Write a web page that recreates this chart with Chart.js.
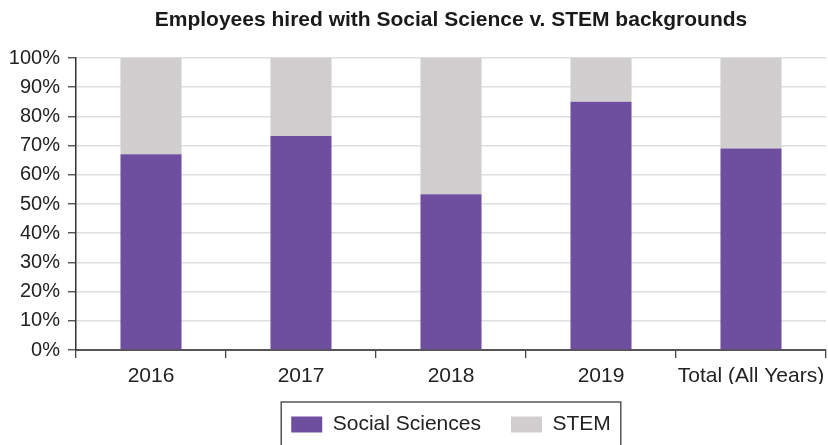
<!DOCTYPE html>
<html>
<head>
<meta charset="utf-8">
<script src="https://cdn.jsdelivr.net/npm/chart.js@4"></script>
<style>
  html, body { margin: 0; padding: 0; background: #fff; }
  #wrap { width: 828px; height: 445px; position: relative; overflow: hidden; }
</style>
</head>
<body>
<div id="wrap"><canvas id="c"></canvas></div>
<script>
const categories = ["2016", "2017", "2018", "2019", "Total (All Years)"];
const socialSciences = [67, 73.3, 53.3, 85, 69];
const stem = [33, 26.7, 46.7, 15, 31];
const yTicks = [0, 10, 20, 30, 40, 50, 60, 70, 80, 90, 100];
const chartTitle = "Employees hired with Social Science v. STEM backgrounds";

const FONT = "'Liberation Sans', Arial, Helvetica, sans-serif";

const legendBorder = {
  id: 'legendBorder',
  afterDraw(chart) {
    const lg = chart.legend;
    if (!lg || !lg.legendHitBoxes || !lg.legendHitBoxes.length) return;
    const hb = lg.legendHitBoxes;
    const first = hb[0], last = hb[hb.length - 1];
    const left = first.left - 10;
    const right = last.left + last.width + 10;
    const top = first.top - 12;
    const ctx = chart.ctx;
    ctx.save();
    ctx.strokeStyle = '#555';
    ctx.lineWidth = 1.5;
    ctx.beginPath();
    ctx.moveTo(left, chart.height + 5);
    ctx.lineTo(left, top);
    ctx.lineTo(right, top);
    ctx.lineTo(right, chart.height + 5);
    ctx.stroke();
    ctx.restore();
  }
};

new Chart(document.getElementById('c'), {
  type: 'bar',
  data: {
    labels: categories,
    datasets: [
      { label: 'Social Sciences', data: socialSciences, backgroundColor: '#6E4F9F',
        categoryPercentage: 1, barPercentage: 0.407 },
      { label: 'STEM', data: stem, backgroundColor: '#D0CECF',
        categoryPercentage: 1, barPercentage: 0.407 }
    ]
  },
  options: {
    responsive: true,
    maintainAspectRatio: false,
    animation: false,
    devicePixelRatio: 1,
    layout: { padding: { left: 0, right: 2, top: 0, bottom: 0 } },
    plugins: {
      title: {
        display: true,
        text: chartTitle,
        fullSize: false,
        color: '#1a1a1a',
        font: { family: FONT, size: 21, weight: 'bold' },
        padding: { top: 8, bottom: 24.8 }
      },
      legend: {
        display: true,
        position: 'bottom',
        fullSize: false,
        labels: {
          color: '#222',
          font: { family: FONT, size: 21 },
          boxWidth: 31,
          boxHeight: 16,
          padding: 30
        }
      },
      tooltip: { enabled: false }
    },
    scales: {
      x: {
        stacked: true,
        afterFit(s) { s.height = 34; s.paddingRight = 0; s.paddingLeft = 0; },
        grid: { display: true, drawOnChartArea: false, drawTicks: true, tickLength: 8,
                color: '#444', lineWidth: 1.3, offset: true },
        border: { display: true, color: '#555', width: 2 },
        ticks: { color: '#222', font: { family: FONT, size: 21 }, padding: 6, maxRotation: 0, autoSkip: false }
      },
      y: {
        stacked: true,
        min: 0, max: 100,
        afterFit(s) { s.width = 76; },
        afterBuildTicks(s) { s.ticks = yTicks.map(v => ({ value: v })); },
        grid: { color: '#DEDEDE', lineWidth: 1.5, tickColor: '#444', tickWidth: 1.3, tickLength: 8 },
        border: { display: true, color: '#333', width: 1.5 },
        ticks: { color: '#222', font: { family: FONT, size: 20 }, padding: 8,
                 callback: v => v + '%' }
      }
    }
  },
  plugins: [legendBorder]
});
</script>
</body>
</html>
